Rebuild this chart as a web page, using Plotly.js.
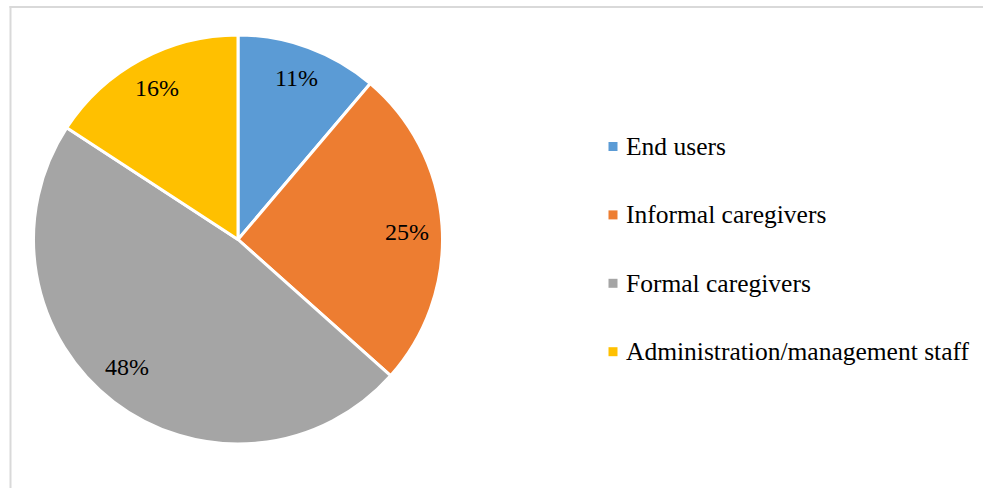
<!DOCTYPE html>
<html>
<head>
<meta charset="utf-8">
<script src="https://cdn.plot.ly/plotly-3.0.1.min.js"></script>
<style>
  html, body { margin: 0; padding: 0; background: #ffffff; }
  #chart { width: 983px; height: 488px; }
</style>
</head>
<body>
<div id="chart"></div>
<script>
// Data
const labels = ["End users", "Informal caregivers", "Formal caregivers", "Administration/management staff"];
const values = [11.2, 25.4, 47.6, 15.8];
const pctLabels = ["11%", "25%", "48%", "16%"];
const colors = ["#5B9BD5", "#ED7D31", "#A5A5A5", "#FFC000"];

const W = 983, H = 488;
const cx = 238, cy = 239.5, R = 204.5;
const FONT = "'Liberation Serif', 'Times New Roman', serif";
// small pixel nudges of the percentage labels (style only)
const labelNudge = [[0, -2], [0, 4], [-8, -7], [0, -2]];

const total = values.reduce((a, b) => a + b, 0);
const annotations = [];
const shapes = [];

// percentage labels at mid-angle of each slice
let cum = 0;
values.forEach((v, i) => {
  const mid = (cum + v / 2) / total * 2 * Math.PI;
  cum += v;
  const r = 0.83 * R;
  const x = cx + r * Math.sin(mid);
  const y = cy - r * Math.cos(mid);
  annotations.push({
    xref: "paper", yref: "paper", x: x / W, y: 1 - y / H,
    xanchor: "center", yanchor: "middle", showarrow: false,
    xshift: labelNudge[i][0], yshift: -labelNudge[i][1],
    text: pctLabels[i], font: { family: FONT, size: 24, color: "#000000" }
  });
});

// legend built as text + square markers
const legX = 613, legTextX = 624, legY0 = 146.5, legGap = 68.4;
labels.forEach((lab, i) => {
  const y = legY0 + i * legGap;
  shapes.push({
    type: "rect", xref: "paper", yref: "paper",
    x0: (legX - 4.5) / W, x1: (legX + 4.5) / W,
    y0: 1 - (y + 4.5) / H, y1: 1 - (y - 4.5) / H,
    fillcolor: colors[i], line: { width: 0 }
  });
  annotations.push({
    xref: "paper", yref: "paper", x: legTextX / W, y: 1 - y / H,
    xanchor: "left", yanchor: "middle", showarrow: false,
    text: lab, font: { family: FONT, size: 25.5, color: "#000000" }
  });
});

// chart-area border (left and top edges visible)
shapes.push({ type: "line", xref: "paper", yref: "paper", x0: 10.5 / W, x1: 10.5 / W, y0: 0, y1: 1 - 6 / H, line: { color: "#d9d9d9", width: 2 } });
shapes.push({ type: "line", xref: "paper", yref: "paper", x0: 9.5 / W, x1: 1, y0: 1 - 7 / H, y1: 1 - 7 / H, line: { color: "#d9d9d9", width: 2 } });

const trace = {
  type: "pie",
  labels: labels,
  values: values,
  sort: false,
  direction: "clockwise",
  rotation: 0,
  textinfo: "none",
  hoverinfo: "label+percent",
  marker: { colors: colors, line: { color: "#ffffff", width: 3 } },
  domain: { x: [(cx - R) / W, (cx + R) / W], y: [1 - (cy + R) / H, 1 - (cy - R) / H] },
  showlegend: false
};

const layout = {
  width: W, height: H,
  margin: { l: 0, r: 0, t: 0, b: 0 },
  paper_bgcolor: "#ffffff",
  showlegend: false,
  annotations: annotations,
  shapes: shapes
};

Plotly.newPlot("chart", [trace], layout, { displayModeBar: false, staticPlot: true });
</script>
</body>
</html>
